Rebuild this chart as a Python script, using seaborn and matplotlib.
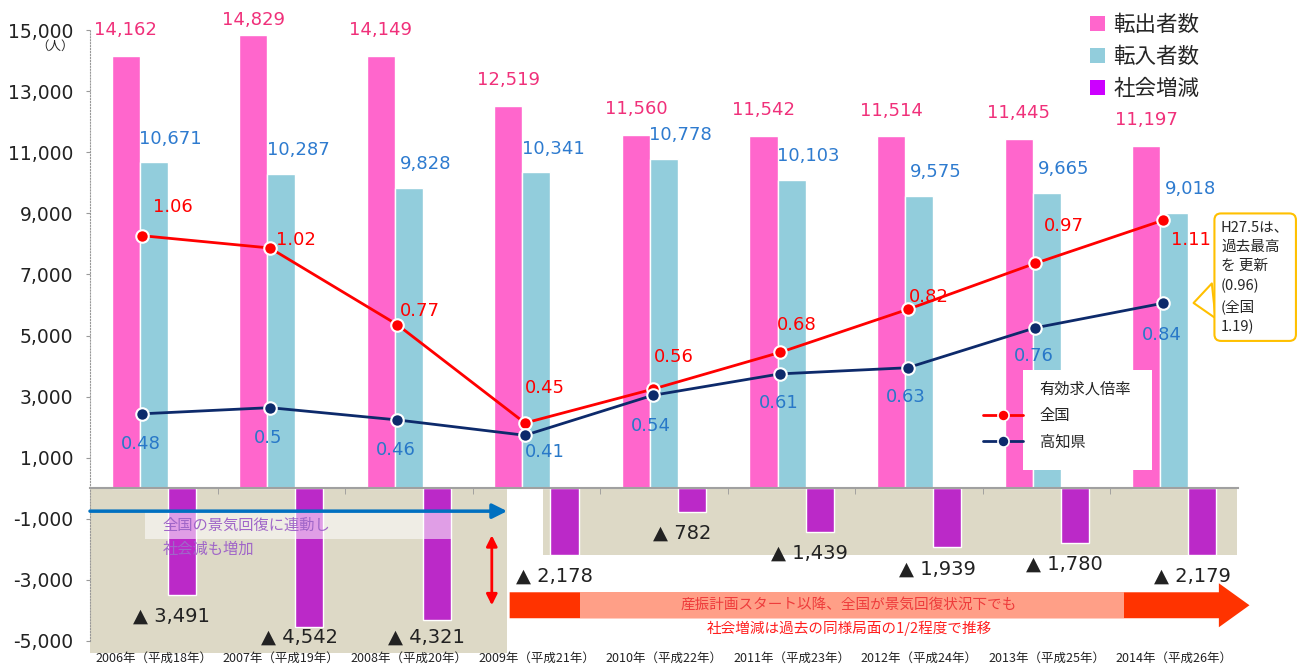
import numpy as np
import pandas as pd
import matplotlib
matplotlib.use('Agg')
import matplotlib.pyplot as plt
import seaborn as sns
from matplotlib.patches import Rectangle, FancyArrow, Patch
from matplotlib.lines import Line2D

# data
years = ['2006年（平成18年）', '2007年（平成19年）', '2008年（平成20年）',
         '2009年（平成21年）', '2010年（平成22年）', '2011年（平成23年）',
         '2012年（平成24年）', '2013年（平成25年）', '2014年（平成26年）']
series_names = ['転出者数', '転入者数', '社会増減']
moved_out = [14162, 14829, 14149, 12519, 11560, 11542, 11514, 11445, 11197]
moved_in = [10671, 10287, 9828, 10341, 10778, 10103, 9575, 9665, 9018]
social = [-3491, -4542, -4321, -2178, -782, -1439, -1939, -1780, -2179]
ratio_national = [1.06, 1.02, 0.77, 0.45, 0.56, 0.68, 0.82, 0.97, 1.11]
ratio_kochi = [0.48, 0.5, 0.46, 0.41, 0.54, 0.61, 0.63, 0.76, 0.84]

bar_colors = ['#FF66CC', '#92CDDC', '#BB29C8']
legend_colors = ['#FF66CC', '#92CDDC', '#CC00FF']
# label offsets (points) for the ratio labels, as placed in the original
national_off = [(22, 21), (19, 6), (16, 10), (14, 25), (15, 23), (12, 20),
                (15, 9), (21, 27), (20, -14)]
kochi_off = [(-1, -22), (-1, -22), (-1, -22), (14, -12), (-1, -22), (-1, -21),
             (-1, -21), (-1, -20), (-1, -23)]
NUM = 'DejaVu Sans'

sns.set_style('white')
plt.rcParams['font.family'] = ['Noto Sans CJK JP', 'DejaVu Sans']

fig = plt.figure(figsize=(12.98, 6.66), dpi=100)
ax = fig.add_axes([90 / 1298, 25 / 666, 1148 / 1298, 611 / 666])

df = pd.DataFrame({
    'year': years * 3,
    'series': np.repeat(series_names, len(years)),
    'value': moved_out + moved_in + social,
})
sns.barplot(data=df, x='year', y='value', hue='series', hue_order=series_names,
            palette=bar_colors, width=0.66, saturation=1, ax=ax, legend=False,
            zorder=2)
w = 0.22

ax.set_ylim(-5000, 15000)
ax.set_xlim(-0.5, 8.5)
ax.set_xlabel('')
ax.set_ylabel('')
yt = list(range(-5000, 15001, 2000))
ax.set_yticks(yt)
ax.set_yticklabels([f'{v:,}' for v in yt], fontfamily=NUM)
ax.tick_params(axis='y', length=3, pad=9, labelsize=13.5, colors='#999999',
               labelcolor='#222222')
ax.set_xticks(range(len(years)))
ax.set_xticks(np.arange(0.5, len(years) - 1, 1), minor=True)
ax.tick_params(axis='x', which='major', length=0, pad=118, labelsize=9,
               labelcolor='#222222')
ax.tick_params(axis='x', which='minor', length=4, color='#999999', bottom=True)
for s in ['top', 'right']:
    ax.spines[s].set_visible(False)
ax.spines['bottom'].set_position(('data', 0))
ax.spines['bottom'].set_color('#A0A0A0')
ax.spines['bottom'].set_linewidth(1.5)
ax.spines['left'].set_linestyle(':')
ax.spines['left'].set_color('#999999')

# grey background panels
ax.add_patch(Rectangle((-0.5, -5400), 3.27, 5400, fc='#DDD9C6', ec='none',
                       zorder=0.5, clip_on=False))
ax.add_patch(Rectangle((3.05, -2200), 5.44, 2200, fc='#DDD9C6', ec='none',
                       zorder=0.5))

# bar value labels
for i, v in enumerate(moved_out):
    ax.text(i - w, min(v + 850, 15320), f'{v:,}', ha='center', va='center',
            color='#F0307A', fontsize=13, fontfamily=NUM, zorder=5, clip_on=False)
for i, v in enumerate(moved_in):
    ax.annotate(f'{v:,}', (i, v), xytext=(12, 17), textcoords='offset points',
                ha='center', va='center', color='#2E7BCF', fontsize=13,
                fontfamily=NUM, zorder=5)
for i, v in enumerate(social):
    ax.text(i + w - 0.08, max(v - 700, -4880), f'▲ {-v:,}', ha='center',
            va='center', color='#222222', fontsize=14, fontfamily=NUM, zorder=5)

# left annotation: blue arrow + note
ax.annotate('', xy=(2.77, -750), xytext=(-0.5, -750),
            arrowprops=dict(arrowstyle='-|>', color='#0070C0', lw=2.5,
                            mutation_scale=22, shrinkA=0, shrinkB=0), zorder=4)
ax.add_patch(Rectangle((-0.07, -1650), 2.41, 900, fc='white', alpha=0.55,
                       ec='none', zorder=3))
ax.text(0.07, -1210, '全国の景気回復に連動し', color='#A066C8', fontsize=11,
        va='center', zorder=4)
ax.text(0.07, -2000, '社会減も増加', color='#A066C8', fontsize=11,
        va='center', zorder=4)
ax.annotate('', xy=(2.65, -1540), xytext=(2.65, -3830),
            arrowprops=dict(arrowstyle='<|-|>', color='red', lw=2,
                            mutation_scale=16, shrinkA=0, shrinkB=0), zorder=4)

# right annotation: orange arrow
ax.add_patch(FancyArrow(2.79, -3830, 5.8, 0, width=850, head_width=1440,
                        head_length=0.24, length_includes_head=True,
                        fc='#FF3300', ec='none', clip_on=False, zorder=3))
ax.add_patch(Rectangle((3.34, -4255), 4.27, 851, fc='#FF9F87', ec='none',
                       zorder=3.5))
ax.text(5.45, -3800, '産振計画スタート以降、全国が景気回復状況下でも',
        color='#EE3B3B', fontsize=10.5, ha='center', va='center', zorder=4)
ax.text(5.45, -4590, '社会増減は過去の同様局面の1/2程度で推移',
        color='#FF2020', fontsize=10.5, ha='center', va='center', zorder=4)

# job-offer ratio lines on a hidden secondary axis
ax2 = ax.twinx()
xs = np.arange(len(years)) - 0.09
sns.lineplot(x=xs, y=ratio_national, ax=ax2, color='#FF0000', lw=2, marker='o',
             ms=9, mfc='#FF0000', mec='white', mew=1.5, legend=False, zorder=3)
sns.lineplot(x=xs, y=ratio_kochi, ax=ax2, color='#0D2A6B', lw=2, marker='o',
             ms=9, mfc='#0D2A6B', mec='white', mew=1.5, legend=False, zorder=3)
ax2.set_ylim(-0.26, 1.73)
ax.set_xlim(-0.5, 8.5)
ax2.set_yticks([])
ax2.set_ylabel('')
for s in ax2.spines.values():
    s.set_visible(False)

for x, v, off in zip(xs, ratio_national, national_off):
    ax2.annotate(f'{v:g}', (x, v), xytext=off, textcoords='offset points',
                 ha='center', va='center', color='#FF0000', fontsize=13,
                 fontfamily=NUM, zorder=5)
for x, v, off in zip(xs, ratio_kochi, kochi_off):
    ax2.annotate(f'{v:g}', (x, v), xytext=off, textcoords='offset points',
                 ha='center', va='center', color='#2878C8', fontsize=13,
                 fontfamily=NUM, zorder=5)

# inner legend for the ratio lines
ax2.add_patch(Rectangle((1023 / 1298, 1 - 470 / 666), 129 / 1298, 100 / 666,
                        transform=fig.transFigure, fc='white', ec='none',
                        zorder=1))
fig.text(1039 / 1298, 1 - 389 / 666, '有効求人倍率', fontsize=11, va='center',
         color='#222222', zorder=6)
line_handles = [
    Line2D([], [], color='#FF0000', lw=2, marker='o', ms=8, mfc='#FF0000',
           mec='white', mew=1.2),
    Line2D([], [], color='#0D2A6B', lw=2, marker='o', ms=8, mfc='#0D2A6B',
           mec='white', mew=1.2),
]
ax2.legend(line_handles, ['全国', '高知県'], loc='upper left',
           bbox_to_anchor=(983 / 1298, 1 - 407 / 666),
           bbox_transform=fig.transFigure, frameon=False, fontsize=11,
           handlelength=2.6, handletextpad=1.1, borderpad=0, borderaxespad=0,
           labelspacing=0.62)

# callout
ax2.annotate('H27.5は、\n過去最高\nを 更新\n(0.96)\n(全国\n1.19)',
             xy=(8.13, 0.84), xytext=(1221, 666 - 220), textcoords='figure pixels',
             ha='left', va='top', fontsize=10.5, linespacing=1.5,
             bbox=dict(boxstyle='round,pad=0.45', fc='white', ec='#FFC000', lw=1.5),
             arrowprops=dict(arrowstyle='wedge,tail_width=2.4', fc='white',
                             ec='#FFC000', lw=1.5, relpos=(0, 0.3),
                             shrinkA=0, shrinkB=2), zorder=6)

# top legend and unit label
handles = [Patch(fc=c, ec='none') for c in legend_colors]
fig.legend(handles, series_names, loc='upper left',
           bbox_to_anchor=(1081 / 1298, 1 - 5 / 666), frameon=False,
           fontsize=15.5, handlelength=0.7, handleheight=0.7,
           handletextpad=0.4, labelspacing=0.48, borderaxespad=0)
fig.text(55 / 1298, 1 - 46 / 666, '（人）', fontsize=9, ha='center', va='center',
         color='#222222')

fig.savefig('out.png', dpi=100)
